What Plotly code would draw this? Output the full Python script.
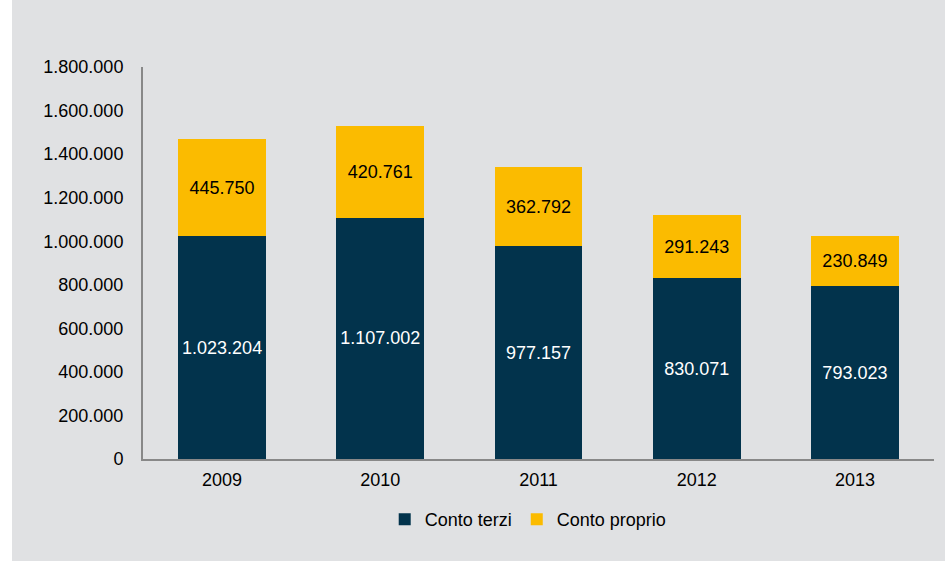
import plotly.graph_objects as go

years = ["2009", "2010", "2011", "2012", "2013"]
conto_terzi = [1023204, 1107002, 977157, 830071, 793023]
conto_proprio = [445750, 420761, 362792, 291243, 230849]
y_ticks = [0, 200000, 400000, 600000, 800000, 1000000, 1200000, 1400000, 1600000, 1800000]

NAVY = "#02334c"
YELLOW = "#fbbb00"
BG = "#e0e1e3"
FONT = "Liberation Sans, Arial, sans-serif"

fig = go.Figure()
fig.add_trace(go.Bar(
    x=years, y=conto_terzi, name="Conto terzi",
    marker=dict(color=NAVY, line=dict(width=0)),
    texttemplate="%{y:,}", textposition="inside", insidetextanchor="middle",
    textangle=0, textfont=dict(color="white", size=18, family=FONT),
))
fig.add_trace(go.Bar(
    x=years, y=conto_proprio, name="Conto proprio",
    marker=dict(color=YELLOW, line=dict(width=0)),
    texttemplate="%{y:,}", textposition="inside", insidetextanchor="middle",
    textangle=0, textfont=dict(color="black", size=18, family=FONT),
))

fig.update_layout(
    barmode="stack",
    bargap=0.444,
    width=945, height=561,
    margin=dict(l=143, r=11, t=67, b=102),
    paper_bgcolor="white",
    plot_bgcolor=BG,
    separators=",.",
    font=dict(family=FONT, size=18, color="black"),
    showlegend=True,
    legend=dict(orientation="h", x=0.487, xanchor="center", y=-0.107, yanchor="top",
                bgcolor="rgba(0,0,0,0)", font=dict(size=18), itemwidth=30,
                traceorder="normal"),
    shapes=[dict(type="rect", xref="paper", yref="paper",
                 x0=-131/791, x1=1.02, y0=-102/392, y1=(561-67-15)/392,
                 fillcolor=BG, line=dict(width=0), layer="below")],
)
fig.update_xaxes(showline=True, linecolor="#888888", linewidth=2, ticks="",
                 showgrid=False, tickfont=dict(size=18), ticklabelstandoff=3)
fig.update_yaxes(range=[0, 1800000], tickvals=y_ticks, tickformat=",",
                 showline=True, linecolor="#888888", linewidth=2, ticks="",
                 showgrid=False, zeroline=False, tickfont=dict(size=18),
                 ticklabelstandoff=14)

fig.write_html("out.html")
